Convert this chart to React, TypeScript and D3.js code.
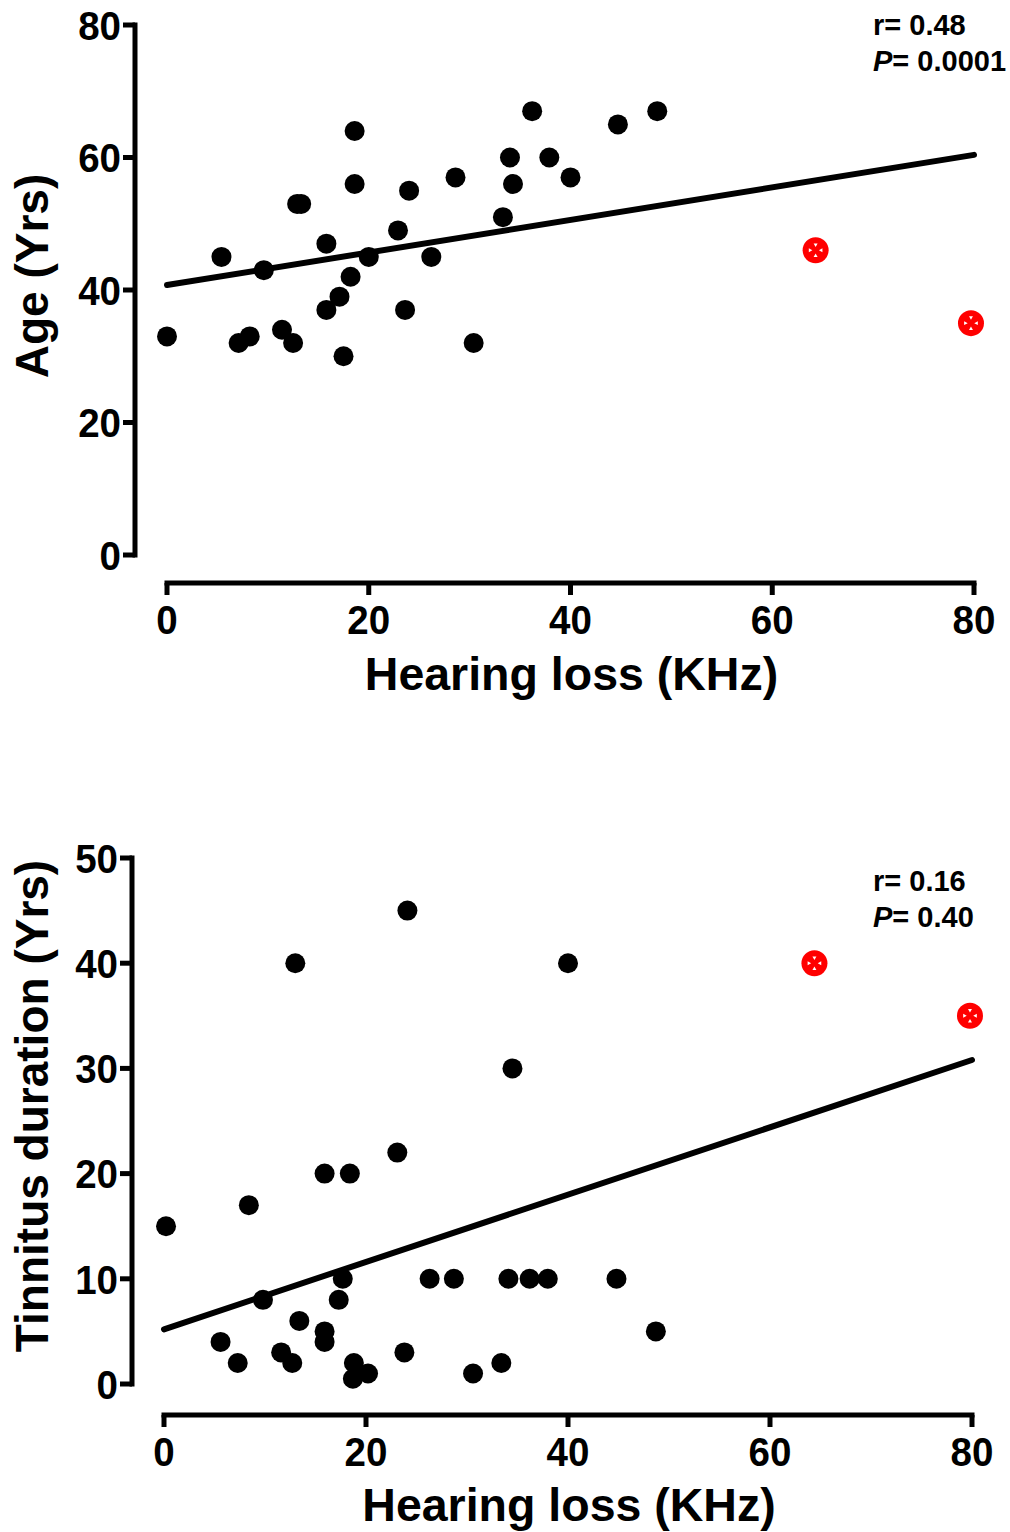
import React from "react";
import * as d3 from "d3";

// ---------- DATA ----------
const ageHearingLoss = [0, 5.4, 7.1, 8.2, 9.6, 11.4, 12.5, 12.9, 13.3, 15.8, 15.8, 17.1, 17.5, 18.2, 18.6, 18.6, 20, 22.9, 23.6, 24, 26.2, 28.6, 30.4, 33.3, 34, 34.3, 36.2, 37.9, 40, 44.7, 48.6];
const ageValues = [33, 45, 32, 33, 43, 34, 32, 53, 53, 47, 37, 39, 30, 42, 64, 56, 45, 49, 37, 55, 45, 57, 32, 51, 60, 56, 67, 60, 57, 65, 67];
const ageOutlierHearingLoss = [64.3, 79.7];
const ageOutlierValues = [46, 35];
const ageFitX = [0, 80];
const ageFitY = [40.75, 60.4];
const ageTicksY = [0, 20, 40, 60, 80];

const durHearingLoss = [0.2, 5.6, 7.3, 8.4, 9.8, 11.6, 12.7, 13.0, 13.4, 15.9, 15.9, 15.9, 17.3, 17.7, 18.4, 18.8, 18.7, 20.2, 23.1, 23.8, 24.1, 26.3, 28.7, 30.6, 33.4, 34.1, 34.5, 36.2, 38.0, 40.0, 44.8, 48.7];
const durValues = [15, 4, 2, 17, 8, 3, 2, 40, 6, 20, 5, 4, 8, 10, 20, 2, 0.5, 1, 22, 3, 45, 10, 10, 1, 2, 10, 30, 10, 10, 40, 10, 5];
const durOutlierHearingLoss = [64.4, 79.8];
const durOutlierValues = [40, 35];
const durFitX = [0, 80];
const durFitY = [5.2, 30.8];
const durTicksY = [0, 10, 20, 30, 40, 50];

const ticksX = [0, 20, 40, 60, 80];
const xTitle = "Hearing loss (KHz)";

const FONT = "'Liberation Sans', Arial, Helvetica, sans-serif";

type PanelProps = {
  xs: number[]; ys: number[]; oxs: number[]; oys: number[];
  fitX: number[]; fitY: number[]; yTicks: number[]; yMax: number;
  yAxisX: number; yTop: number; yBottom: number;
  xAxisY: number; xLeft: number; xRight: number;
  yTitle: string; yTitleX: number; yTitleY: number; xTitleY: number;
  rText: string; pText: string; annX: number; annY: number;
};

function OutlierMarker({ cx, cy }: { cx: number; cy: number }) {
  const d = 5.5, s = 2.2;
  const tri = (dx: number, dy: number) => {
    const tipx = cx + dx * (d - s), tipy = cy + dy * (d - s);
    const ox = -dy * s * 0.9, oy = dx * s * 0.9;
    const bx = cx + dx * (d + s * 0.6), by = cy + dy * (d + s * 0.6);
    return `M${tipx},${tipy}L${bx + ox},${by + oy}L${bx - ox},${by - oy}Z`;
  };
  return (
    <g>
      <circle cx={cx} cy={cy} r={13} fill="#ff0000" />
      {[[0, -1], [0, 1], [-1, 0], [1, 0]].map(([dx, dy], i) => (
        <path key={i} d={tri(dx, dy)} fill="#ffffff" />
      ))}
    </g>
  );
}

function Panel(p: PanelProps) {
  const x = d3.scaleLinear().domain([0, 80]).range([p.xLeft, p.xRight]);
  const y = d3.scaleLinear().domain([0, p.yMax]).range([p.yBottom, p.yTop]);
  const line = d3.line<[number, number]>().x((d) => x(d[0])).y((d) => y(d[1]));
  const fit: [number, number][] = p.fitX.map((v, i) => [v, p.fitY[i]]);
  const tickFont = 41;
  return (
    <g fontFamily={FONT} fontWeight="bold" fill="#000">
      {/* y axis */}
      <line x1={p.yAxisX} x2={p.yAxisX} y1={y(p.yMax) - 2.5} y2={y(0) + 2.5} stroke="#000" strokeWidth={5} />
      {p.yTicks.map((t) => (
        <g key={t}>
          <line x1={p.yAxisX - 12} x2={p.yAxisX} y1={y(t)} y2={y(t)} stroke="#000" strokeWidth={5} />
          <text x={p.yAxisX - 14} y={y(t) + tickFont * 0.36} fontSize={tickFont} textAnchor="end"
            transform={`translate(${(p.yAxisX - 14) * 0.06},0) scale(0.94,1)`}>{t}</text>
        </g>
      ))}
      {/* x axis */}
      <line x1={x(0) - 2.5} x2={x(80) + 2.5} y1={p.xAxisY} y2={p.xAxisY} stroke="#000" strokeWidth={5} />
      {ticksX.map((t) => (
        <g key={t}>
          <line x1={x(t)} x2={x(t)} y1={p.xAxisY} y2={p.xAxisY + 12} stroke="#000" strokeWidth={5} />
          <text x={x(t)} y={p.xAxisY + 51} fontSize={tickFont} textAnchor="middle"
            transform={`translate(${x(t) * 0.06},0) scale(0.94,1)`}>{t}</text>
        </g>
      ))}
      {/* titles */}
      <text x={(x(0) + x(80)) / 2 + 1} y={p.xTitleY} fontSize={46.5} textAnchor="middle">{xTitle}</text>
      <text transform={`translate(${p.yTitleX},${p.yTitleY}) rotate(-90)`} fontSize={46} textAnchor="middle">{p.yTitle}</text>
      {/* regression */}
      <path d={line(fit) || ""} stroke="#000" strokeWidth={6} fill="none" strokeLinecap="round" />
      {/* points */}
      {p.xs.map((v, i) => (
        <circle key={i} cx={x(v)} cy={y(p.ys[i])} r={10} fill="#000" />
      ))}
      {p.oxs.map((v, i) => (
        <OutlierMarker key={i} cx={x(v)} cy={y(p.oys[i])} />
      ))}
      {/* annotation */}
      <text x={p.annX} y={p.annY} fontSize={29}>{p.rText}</text>
      <text x={p.annX} y={p.annY + 36} fontSize={29}>
        <tspan fontStyle="italic">P</tspan>{p.pText}
      </text>
    </g>
  );
}

export default function App() {
  return (
    <svg width={1010} height={1532} viewBox="0 0 1010 1532" style={{ position: "absolute", left: 0, top: 0, background: "#fff" }}>
      <rect x={0} y={0} width={1010} height={1532} fill="#fff" />
      <Panel xs={ageHearingLoss} ys={ageValues} oxs={ageOutlierHearingLoss} oys={ageOutlierValues}
        fitX={ageFitX} fitY={ageFitY} yTicks={ageTicksY} yMax={80}
        yAxisX={135} yTop={25} yBottom={555}
        xAxisY={583} xLeft={167} xRight={974}
        yTitle="Age (Yrs)" yTitleX={48} yTitleY={276} xTitleY={690}
        rText="r= 0.48" pText="= 0.0001" annX={873} annY={35} />
      <Panel xs={durHearingLoss} ys={durValues} oxs={durOutlierHearingLoss} oys={durOutlierValues}
        fitX={durFitX} fitY={durFitY} yTicks={durTicksY} yMax={50}
        yAxisX={132} yTop={858} yBottom={1384}
        xAxisY={1415} xLeft={164} xRight={972}
        yTitle="Tinnitus duration (Yrs)" yTitleX={48} yTitleY={1106} xTitleY={1521}
        rText="r= 0.16" pText="= 0.40" annX={873} annY={891} />
    </svg>
  );
}
